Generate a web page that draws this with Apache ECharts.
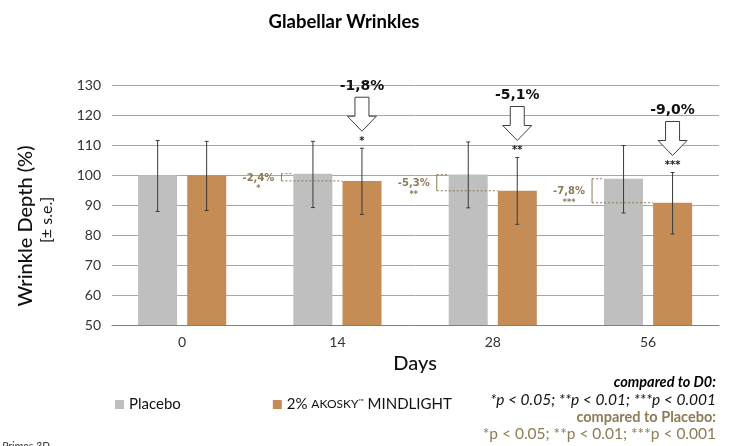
<!DOCTYPE html>
<html><head><meta charset="utf-8">
<script src="https://cdn.jsdelivr.net/npm/echarts@6/dist/echarts.min.js"></script>
<style>html,body{margin:0;padding:0;background:#fff}#c{width:731px;height:446px}</style>
</head><body><div id="c"></div>
<script>
const categories = ['0', '14', '28', '56'];
const placebo = [100, 100.5, 100.2, 98.8];
const active = [100, 98.1, 94.8, 90.8];
const placeboHi = [111.6, 111.3, 111.1, 109.9];
const placeboLo = [87.9, 89.2, 89.1, 87.4];
const activeHi = [111.3, 109.0, 105.9, 100.9];
const activeLo = [88.2, 86.9, 83.6, 80.4];
const vsD0Change = ['', '-1,8%', '-5,1%', '-9,0%'];
const vsD0Stars = ['', '*', '**', '***'];
const vsPlaceboChange = ['', '-2,4%', '-5,3%', '-7,8%'];
const vsPlaceboStars = ['', '*', '**', '***'];
const yTicks = {min: 50, max: 130, interval: 10};
const placeboName = 'Placebo';
const activeName = '2% AKOSKY™ MINDLIGHT';

const OLIVE = '#8c7b55';
const BAR_OFF = 24.5;
const chart = echarts.init(document.getElementById('c'));

function errRender(sign) {
  return function (params, api) {
    const i = api.value(0);
    const top = api.coord([i, api.value(1)]);
    const bot = api.coord([i, api.value(2)]);
    const x = top[0] + sign * BAR_OFF;
    const st = {stroke: '#3a3a3a', lineWidth: 1};
    return {type: 'group', children: [
      {type: 'line', shape: {x1: x, y1: top[1], x2: x, y2: bot[1]}, style: st},
      {type: 'line', shape: {x1: x - 2, y1: top[1], x2: x + 2, y2: top[1]}, style: st},
      {type: 'line', shape: {x1: x - 2, y1: bot[1], x2: x + 2, y2: bot[1]}, style: st}
    ]};
  };
}

function arrowRender(params, api) {
  const i = api.value(0);
  const lbl = vsD0Change[i];
  if (!lbl) return null;
  const p = api.coord([i, api.value(1)]);
  const cx = p[0] + BAR_OFF;
  const tip = p[1] - 17;
  const shoulder = tip - 15;
  const stemTop = shoulder - 19;
  return {type: 'group', children: [
    {type: 'polygon', shape: {points: [
      [cx - 7, stemTop], [cx + 7, stemTop], [cx + 7, shoulder], [cx + 14.5, shoulder],
      [cx, tip], [cx - 14.5, shoulder], [cx - 7, shoulder]]},
      style: {fill: '#fff', stroke: '#404040', lineWidth: 1}},
    {type: 'text', x: cx, y: stemTop - 11, style: {text: lbl, font: 'bold 14px "DejaVu Sans"', fill: '#111', align: 'center', verticalAlign: 'middle'}},
    {type: 'text', x: cx, y: tip + 10, style: {text: vsD0Stars[i], font: 'bold 10px "DejaVu Sans"', fill: '#222', align: 'center', verticalAlign: 'middle'}}
  ]};
}

function bracketRender(params, api) {
  const i = api.value(0);
  const lbl = vsPlaceboChange[i];
  if (!lbl) return null;
  const a = api.coord([i, api.value(1)]);
  const b = api.coord([i, api.value(2)]);
  const pl = a[0] - BAR_OFF - 19.5;
  const al = a[0] + BAR_OFF - 19.5;
  const bx = pl - 12;
  const mid = (a[1] + b[1]) / 2;
  const dot = {stroke: OLIVE, lineWidth: 1, lineDash: [2, 2]};
  return {type: 'group', children: [
    {type: 'line', shape: {x1: bx, y1: a[1], x2: bx, y2: b[1]}, style: {stroke: OLIVE, lineWidth: 1}},
    {type: 'line', shape: {x1: bx, y1: a[1], x2: pl, y2: a[1]}, style: dot},
    {type: 'line', shape: {x1: bx, y1: b[1], x2: al, y2: b[1]}, style: dot},
    {type: 'text', x: bx - 23, y: mid + 1, style: {text: lbl, font: 'bold 10px "DejaVu Sans"', fill: OLIVE, align: 'center', verticalAlign: 'middle'}},
    {type: 'text', x: bx - 23, y: mid + 12, style: {text: vsPlaceboStars[i], font: 'bold 8px "DejaVu Sans"', fill: OLIVE, align: 'center', verticalAlign: 'middle'}}
  ]};
}

const idx = categories.map((c, i) => i);

chart.setOption({
  animation: false,
  title: {text: 'Glabellar Wrinkles', left: 339, top: 8, textAlign: 'center',
    textStyle: {fontFamily: 'Lato', fontWeight: 'bold', fontSize: 18.5, color: '#000'}},
  legend: {
    data: [placeboName, activeName], left: 110, top: 392, itemWidth: 9, itemHeight: 9, itemGap: 92,
    icon: 'rect',
    formatter: n => n === activeName ? '2% {sc|AKOSKY}{tm|™} MINDLIGHT' : n,
    textStyle: {fontFamily: 'Lato', fontSize: 15, color: '#111',
      rich: {sc: {fontFamily: 'Lato', fontSize: 12, color: '#111'}, tm: {fontFamily: 'Lato', fontSize: 7, color: '#111', padding: [0, 0, 6, 0]}}}
  },
  grid: [
    {left: 104.5, right: 5.3, top: 85.3, bottom: 121},
    {left: 112, right: 12, top: 85.3, bottom: 121}
  ],
  xAxis: [
    {type: 'category', gridIndex: 0, data: categories, axisLine: {show: false}, axisTick: {show: false},
      axisLabel: {fontFamily: 'Lato', fontSize: 14, color: '#333', margin: 10},
      name: 'Days', nameLocation: 'middle', nameGap: 29,
      nameTextStyle: {fontFamily: 'Lato', fontSize: 20, fontWeight: 500, color: '#111'}},
    {type: 'category', gridIndex: 1, data: categories, axisLine: {show: true, lineStyle: {color: '#7f7f7f'}},
      axisTick: {show: false}, axisLabel: {show: false}}
  ],
  yAxis: [
    {type: 'value', gridIndex: 0, min: yTicks.min, max: yTicks.max, interval: yTicks.interval, show: false},
    {type: 'value', gridIndex: 1, min: yTicks.min, max: yTicks.max, interval: yTicks.interval,
      axisLine: {show: false}, axisTick: {show: false},
      axisLabel: {fontFamily: 'Lato', fontSize: 14, color: '#333', margin: 11},
      splitLine: {lineStyle: {color: '#a6a6a6', width: 1}}}
  ],
  series: [
    {name: placeboName, type: 'bar', xAxisIndex: 0, yAxisIndex: 0, data: placebo, barWidth: 39, barGap: '26%',
      itemStyle: {color: '#bfbfbf'}},
    {name: activeName, type: 'bar', xAxisIndex: 0, yAxisIndex: 0, data: active, barWidth: 39, barGap: '26%',
      itemStyle: {color: '#c58c56'}},
    {type: 'custom', xAxisIndex: 0, yAxisIndex: 0, z: 5, renderItem: errRender(-1),
      data: idx.map(i => [i, placeboHi[i], placeboLo[i]])},
    {type: 'custom', xAxisIndex: 0, yAxisIndex: 0, z: 5, renderItem: errRender(1),
      data: idx.map(i => [i, activeHi[i], activeLo[i]])},
    {type: 'custom', xAxisIndex: 0, yAxisIndex: 0, z: 6, renderItem: arrowRender,
      data: idx.map(i => [i, activeHi[i]])},
    {type: 'custom', xAxisIndex: 0, yAxisIndex: 0, z: 6, renderItem: bracketRender,
      data: idx.map(i => [i, placebo[i], active[i]])}
  ],
  graphic: [
    {type: 'text', x: 26, y: 226, rotation: Math.PI / 2,
      style: {text: 'Wrinkle Depth (%)', font: '500 20px Lato', fill: '#111', align: 'center', verticalAlign: 'middle'}},
    {type: 'text', x: 47, y: 220, rotation: Math.PI / 2,
      style: {text: '[± s.e.]', font: '16px Lato', fill: '#111', align: 'center', verticalAlign: 'middle'}},
    {type: 'text', x: 716, y: 382, style: {text: 'compared to D0:', font: 'italic bold 14.5px Lato', fill: '#000', align: 'right', verticalAlign: 'middle'}},
    {type: 'text', x: 716, y: 400, style: {text: '*p < 0.05; **p < 0.01; ***p < 0.001', font: 'italic 15.5px Lato', fill: '#111', align: 'right', verticalAlign: 'middle'}},
    {type: 'text', x: 716, y: 417, style: {text: 'compared to Placebo:', font: 'bold 14.5px Lato', fill: OLIVE, align: 'right', verticalAlign: 'middle'}},
    {type: 'text', x: 716, y: 434, style: {text: '*p < 0.05; **p < 0.01; ***p < 0.001', font: '15.5px Lato', fill: OLIVE, align: 'right', verticalAlign: 'middle'}},
    {type: 'text', x: 2, y: 446, style: {text: 'Primos 3D', font: 'italic 11px Lato', fill: '#333', align: 'left', verticalAlign: 'middle'}}
  ]
});
</script>
</body></html>
